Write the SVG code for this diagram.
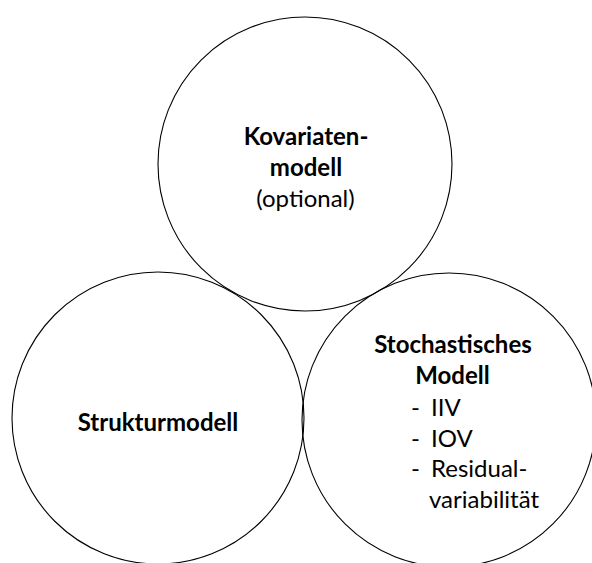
<svg xmlns="http://www.w3.org/2000/svg" width="592" height="563" viewBox="0 0 592 563">
<style>
.c{fill:none;stroke:#000;stroke-width:1.1}
.t{font-family:Lato,"Open Sans","Liberation Sans",sans-serif;font-size:24px;fill:#000}
.b{font-weight:bold}
.m{text-anchor:middle}
</style>
<rect width="592" height="563" fill="#fff"/>
<g id="kovariatenmodell">
<circle class="c" cx="305" cy="164" r="147"/>
<text class="t b m" x="306" y="145">Kovariaten-</text>
<text class="t b m" x="306" y="176">modell</text>
<text class="t m" x="305.5" y="207">(optional)</text>
</g>
<g id="strukturmodell">
<circle class="c" cx="158" cy="418" r="146"/>
<text class="t b m" x="158" y="431">Strukturmodell</text>
</g>
<g id="stochastisches-modell">
<circle class="c" cx="449" cy="420" r="147"/>
<text class="t b m" x="453" y="353">Stochastisches</text>
<text class="t b m" x="452.5" y="384">Modell</text>
<text class="t" x="411" y="416">-</text><text class="t" x="431" y="416">IIV</text>
<text class="t" x="411" y="447">-</text><text class="t" x="431" y="447">IOV</text>
<text class="t" x="411" y="477">-</text><text class="t" x="431" y="477">Residual-</text>
<text class="t" x="429" y="508">variabilität</text>
</g>
<g id="connectors"/>
</svg>
